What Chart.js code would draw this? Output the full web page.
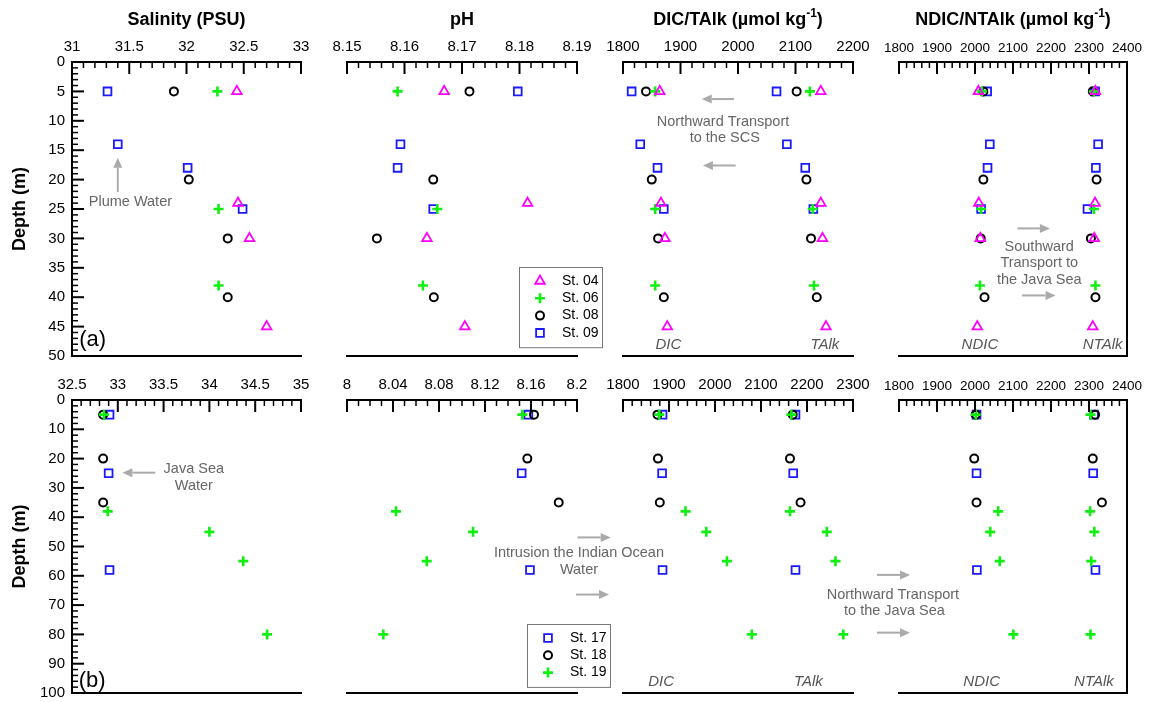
<!DOCTYPE html>
<html>
<head>
<meta charset="utf-8">
<script src="https://cdn.jsdelivr.net/npm/chart.js@4/dist/chart.umd.min.js"></script>
<style>
  html, body { margin: 0; padding: 0; background: #fff; }
  #wrap { position: relative; width: 1149px; height: 702px; overflow: hidden; }
  #wrap canvas { position: absolute; left: 0; top: 0; }
</style>
</head>
<body>
<div id="wrap"></div>
<script>
Chart.defaults.font.family = "'Liberation Sans', Arial, Helvetica, sans-serif";
Chart.defaults.color = '#000';

// ---- (a) upper row: stations 04, 06, 08, 09 ----
const st04Depth = [5, 24, 30, 45];
const st04Sal   = [32.44, 32.45, 32.55, 32.70];
const st04PH    = [8.1669, 8.1814, 8.1639, 8.1705];
const st04DIC   = [1864, 1866, 1873, 1877];
const st04TAlk  = [2144, 2144, 2147, 2153];
const st04NDIC  = [2009, 2010, 2014, 2006];
const st04NTAlk = [2317, 2316, 2314, 2310];

const st06Depth = [5, 25, 38];
const st06Sal   = [32.27, 32.28, 32.28];
const st06PH    = [8.1588, 8.1657, 8.1632];
const st06DIC   = [1856, 1856, 1856];
const st06TAlk  = [2125, 2130, 2132];
const st06NDIC  = [2018, 2016, 2013];
const st06NTAlk = [2313, 2313, 2317];

const st08Depth = [5, 20, 30, 40];
const st08Sal   = [31.89, 32.02, 32.36, 32.36];
const st08PH    = [8.1713, 8.1650, 8.1552, 8.1651];
const st08DIC   = [1840, 1850, 1861, 1871];
const st08TAlk  = [2102, 2119, 2127, 2137];
const st08NDIC  = [2022, 2022, 2015, 2025];
const st08NTAlk = [2310, 2320, 2305, 2317];

const st09Depth = [5, 14, 18, 25];
const st09Sal   = [31.31, 31.40, 32.01, 32.49];
const st09PH    = [8.1797, 8.1593, 8.1588, 8.1650];
const st09DIC   = [1815, 1830, 1860, 1871];
const st09TAlk  = [2067, 2085, 2117, 2131];
const st09NDIC  = [2032, 2039, 2033, 2016];
const st09NTAlk = [2316, 2324, 2318, 2296];

// ---- (b) lower row: stations 17, 18, 19 ----
const st17Depth = [5, 25, 58];
const st17Sal   = [32.91, 32.90, 32.91];
const st17PH    = [8.1577, 8.1519, 8.1591];
const st17DIC   = [1886, 1885, 1886];
const st17TAlk  = [2175, 2170, 2175];
const st17NDIC  = [2004, 2004, 2005];
const st17NTAlk = [2313, 2311, 2317];

const st18Depth = [5, 20, 35];
const st18Sal   = [32.84, 32.84, 32.84];
const st18PH    = [8.1626, 8.1568, 8.1841];
const st18DIC   = [1875, 1876, 1880];
const st18TAlk  = [2169, 2163, 2186];
const st18NDIC  = [2002, 1998, 2004];
const st18NTAlk = [2316, 2310, 2334];

const st19Depth = [5, 38, 45, 55, 80];
const st19Sal   = [32.85, 32.89, 34.00, 34.37, 34.63];
const st19PH    = [8.1525, 8.0426, 8.1096, 8.0693, 8.0316];
const st19DIC   = [1879, 1936, 1981, 2026, 2080];
const st19TAlk  = [2166, 2163, 2243, 2262, 2279];
const st19NDIC  = [2002, 2061, 2040, 2065, 2101];
const st19NTAlk = [2304, 2303, 2314, 2306, 2304];

// axis ranges [min, max, major step, minor step]
const upperXRanges = [[31, 33, 0.5, 0.1], [8.15, 8.19, 0.01, 0.002], [1800, 2200, 100, 20], [1800, 2400, 100, 20]];
const lowerXRanges = [[32.5, 35, 0.5, 0.1], [8, 8.2, 0.04, 0.01], [1800, 2300, 100, 20], [1800, 2400, 100, 20]];
const panelTitles = [['Salinity (PSU)'], ['pH'], ['DIC/TAlk (\u00b5mol kg', '-1', ')'], ['NDIC/NTAlk (\u00b5mol kg', '-1', ')']];

const STYLE = {
  'St. 04': { pointStyle: 'triangle', color: '#ff00ff', radius: 5.5, width: 1.8, order: 0 },
  'St. 06': { pointStyle: 'cross',    color: '#11ee11', radius: 5,   width: 2.6, order: 1 },
  'St. 08': { pointStyle: 'circle',   color: '#000000', radius: 4,   width: 2,   order: 2 },
  'St. 09': { pointStyle: 'rect',     color: '#1a1aff', radius: 5.5, width: 1.8, order: 3 },
  'St. 17': { pointStyle: 'rect',     color: '#1a1aff', radius: 5.5, width: 1.8, order: 2 },
  'St. 18': { pointStyle: 'circle',   color: '#000000', radius: 4,   width: 2,   order: 1 },
  'St. 19': { pointStyle: 'cross',    color: '#11ee11', radius: 5,   width: 2.6, order: 0 }
};

const upperStations = [
  { label: 'St. 04', depth: st04Depth, v: [st04Sal, st04PH, [st04DIC, st04TAlk], [st04NDIC, st04NTAlk]] },
  { label: 'St. 06', depth: st06Depth, v: [st06Sal, st06PH, [st06DIC, st06TAlk], [st06NDIC, st06NTAlk]] },
  { label: 'St. 08', depth: st08Depth, v: [st08Sal, st08PH, [st08DIC, st08TAlk], [st08NDIC, st08NTAlk]] },
  { label: 'St. 09', depth: st09Depth, v: [st09Sal, st09PH, [st09DIC, st09TAlk], [st09NDIC, st09NTAlk]] }
];
const lowerStations = [
  { label: 'St. 17', depth: st17Depth, v: [st17Sal, st17PH, [st17DIC, st17TAlk], [st17NDIC, st17NTAlk]] },
  { label: 'St. 18', depth: st18Depth, v: [st18Sal, st18PH, [st18DIC, st18TAlk], [st18NDIC, st18NTAlk]] },
  { label: 'St. 19', depth: st19Depth, v: [st19Sal, st19PH, [st19DIC, st19TAlk], [st19NDIC, st19NTAlk]] }
];

// page layout (pixels); canvases are taller than the page so the last tick label never squeezes the plot
const CW = 1149, CH = 760;
const ROWS = [
  { top: 62, bottom: 356, yMax: 50, yStep: 5, yMinor: 1, stations: upperStations, ranges: upperXRanges, legendAt: [519, 267] },
  { top: 400, bottom: 693, yMax: 100, yStep: 10, yMinor: 2, stations: lowerStations, ranges: lowerXRanges, legendAt: [527, 624] }
];
const COLS = [
  { left: 72, right: 301, font: 15 },
  { left: 347, right: 577, font: 15 },
  { left: 623, right: 853, font: 15 },
  { left: 899, right: 1127, font: 13.5 }
];

// annotations, in each panel's own data units
const NOTES = {
  '0-0': [
    { arrow: [31.40, 22.1, 31.40, 16.3] },
    { text: 'Plume Water', at: [31.51, 23.8] },
    { tag: '(a)', at: [31.18, 47.3] }
  ],
  '0-2': [
    { arrow: [1993, 6.3, 1937, 6.3] },
    { arrow: [1996, 17.6, 1939, 17.6] },
    { text: 'Northward Transport', at: [1974, 10.2] },
    { text: 'to the SCS', at: [1977, 12.9] },
    { ital: 'DIC', at: [1879, 48.1] },
    { ital: 'TAlk', at: [2151, 48.1] }
  ],
  '0-3': [
    { arrow: [2112, 28.3, 2197, 28.3] },
    { arrow: [2124, 39.7, 2212, 39.7] },
    { text: 'Southward', at: [2169, 31.4] },
    { text: 'Transport to', at: [2169, 34.2] },
    { text: 'the Java Sea', at: [2169, 37.0] },
    { ital: 'NDIC', at: [2013, 48.1] },
    { ital: 'NTAlk', at: [2336, 48.1] }
  ],
  '1-0': [
    { arrow: [33.41, 24.8, 33.05, 24.8] },
    { text: 'Java Sea', at: [33.83, 23.7] },
    { text: 'Water', at: [33.83, 29.2] },
    { tag: '(b)', at: [32.72, 95.8] }
  ],
  '1-1': [
    { text: 'Intrusion the Indian Ocean', at: [8.2017, 52.3] },
    { text: 'Water', at: [8.2017, 58.0] },
    { arrow: [8.2006, 46.9, 8.2293, 46.9] },
    { arrow: [8.1991, 66.4, 8.2278, 66.4] }
  ],
  '1-2': [
    { ital: 'DIC', at: [1883, 96.3] },
    { ital: 'TAlk', at: [2203, 96.3] }
  ],
  '1-3': [
    { text: 'Northward Transport', at: [1784, 66.6] },
    { text: 'to the Java Sea', at: [1788, 71.9] },
    { arrow: [1742, 59.7, 1829, 59.7] },
    { arrow: [1742, 79.4, 1829, 79.4] },
    { ital: 'NDIC', at: [2017.6, 96.3] },
    { ital: 'NTAlk', at: [2313, 96.3] }
  ]
};

const fmt = v => String(Math.round(v * 1000) / 1000);

function makeDataset(st, col) {
  const s = STYLE[st.label];
  const groups = Array.isArray(st.v[col][0]) ? st.v[col] : [st.v[col]];
  const data = [];
  groups.forEach(g => g.forEach((v, i) => data.push({ x: v, y: st.depth[i] })));
  return {
    label: st.label, data, order: s.order,
    pointStyle: s.pointStyle, pointRadius: s.radius, pointHoverRadius: s.radius,
    pointBorderWidth: s.width, borderColor: s.color, pointBorderColor: s.color,
    backgroundColor: 'rgba(0,0,0,0)', pointBackgroundColor: 'rgba(0,0,0,0)'
  };
}

function drawArrow(ctx, x1, y1, x2, y2) {
  const ang = Math.atan2(y2 - y1, x2 - x1), head = 10, hw = 4.5;
  ctx.strokeStyle = '#aaaaaa'; ctx.fillStyle = '#aaaaaa'; ctx.lineWidth = 2;
  ctx.beginPath();
  ctx.moveTo(x1, y1);
  ctx.lineTo(x2 - Math.cos(ang) * head, y2 - Math.sin(ang) * head);
  ctx.stroke();
  ctx.beginPath();
  ctx.moveTo(x2, y2);
  ctx.lineTo(x2 - Math.cos(ang) * head - Math.sin(ang) * hw, y2 - Math.sin(ang) * head + Math.cos(ang) * hw);
  ctx.lineTo(x2 - Math.cos(ang) * head + Math.sin(ang) * hw, y2 - Math.sin(ang) * head - Math.cos(ang) * hw);
  ctx.closePath();
  ctx.fill();
}

function decor(r, c) {
  const row = ROWS[r], [xMin, xMax, xStep, xMinor] = row.ranges[c];
  return {
    id: 'decor',
    afterDraw(chart) {
      const ctx = chart.ctx, a = chart.chartArea, xs = chart.scales.x, ys = chart.scales.y;
      ctx.save();
      ctx.strokeStyle = '#000';
      // inward ticks on top axis
      const n = Math.round((xMax - xMin) / xMinor), every = Math.round(xStep / xMinor);
      for (let i = 0; i <= n; i++) {
        const major = i % every === 0;
        const x = xs.getPixelForValue(xMin + i * xMinor);
        ctx.lineWidth = major ? 2 : 1.5;
        ctx.beginPath(); ctx.moveTo(x, a.top); ctx.lineTo(x, a.top + (major ? 12 : 6)); ctx.stroke();
      }
      // inward ticks on depth axis
      if (c === 0) {
        const m = Math.round(row.yMax / row.yMinor), ev = Math.round(row.yStep / row.yMinor);
        for (let i = 0; i <= m; i++) {
          const major = i % ev === 0;
          const y = ys.getPixelForValue(i * row.yMinor);
          ctx.lineWidth = major ? 2 : 1.5;
          ctx.beginPath(); ctx.moveTo(a.left, y); ctx.lineTo(a.left + (major ? 12 : 6), y); ctx.stroke();
        }
      }
      // bottom line, right frame on the last panel
      ctx.lineWidth = 2;
      ctx.beginPath(); ctx.moveTo(a.left - 1, a.bottom); ctx.lineTo(a.right + 1, a.bottom); ctx.stroke();
      if (c === 3) {
        ctx.beginPath(); ctx.moveTo(a.right, a.top); ctx.lineTo(a.right, a.bottom); ctx.stroke();
      }
      // panel title (upper row only)
      if (r === 0) {
        const t = panelTitles[c], cx = (a.left + a.right) / 2, ty = 20;
        ctx.textBaseline = 'middle';
        ctx.fillStyle = '#000';
        const big = "bold 18px 'Liberation Sans', Arial, sans-serif", small = "bold 12px 'Liberation Sans', Arial, sans-serif";
        ctx.font = big; const w0 = ctx.measureText(t[0]).width, w2 = t[2] ? ctx.measureText(t[2]).width : 0;
        ctx.font = small; const w1 = t[1] ? ctx.measureText(t[1]).width : 0;
        let x = cx - (w0 + w1 + w2) / 2;
        ctx.textAlign = 'left';
        ctx.font = big; ctx.fillText(t[0], x, ty); x += w0;
        if (t[1]) { ctx.font = small; ctx.fillText(t[1], x, ty - 6); x += w1; ctx.font = big; ctx.fillText(t[2], x, ty); }
      }
      // annotations
      ctx.textAlign = 'center'; ctx.textBaseline = 'middle';
      (NOTES[r + '-' + c] || []).forEach(nt => {
        if (nt.arrow) {
          const [x1, y1, x2, y2] = nt.arrow;
          drawArrow(ctx, xs.getPixelForValue(x1), ys.getPixelForValue(y1), xs.getPixelForValue(x2), ys.getPixelForValue(y2));
          return;
        }
        const px = xs.getPixelForValue(nt.at[0]), py = ys.getPixelForValue(nt.at[1]);
        if (nt.text) { ctx.fillStyle = '#666'; ctx.font = "14.5px 'Liberation Sans', Arial, sans-serif"; ctx.fillText(nt.text, px, py); }
        if (nt.ital) { ctx.fillStyle = '#555'; ctx.font = "italic 15px 'Liberation Sans', Arial, sans-serif"; ctx.fillText(nt.ital, px, py); }
        if (nt.tag) { ctx.fillStyle = '#000'; ctx.font = "22px 'Liberation Sans', Arial, sans-serif"; ctx.fillText(nt.tag, px, py); }
      });
      // legend inside the pH panel
      if (c === 1) {
        const [lx, ly] = row.legendAt, items = row.stations, rowH = 17.3;
        const bw = 83, bh = items.length * rowH + 11;
        ctx.fillStyle = '#fff'; ctx.fillRect(lx, ly, bw, bh);
        ctx.strokeStyle = '#777'; ctx.lineWidth = 1;
        ctx.strokeRect(lx + 0.5, ly + 0.5, bw, bh);
        items.forEach((st, i) => {
          const s = STYLE[st.label], y = ly + 14 + i * rowH;
          ctx.strokeStyle = s.color; ctx.fillStyle = 'rgba(0,0,0,0)'; ctx.lineWidth = s.width;
          Chart.helpers.drawPoint(ctx, { pointStyle: s.pointStyle, radius: s.radius, borderWidth: s.width, rotation: 0 }, lx + 21, y);
          ctx.fillStyle = '#000'; ctx.textAlign = 'left';
          ctx.font = "14px 'Liberation Sans', Arial, sans-serif";
          ctx.fillText(st.label, lx + 43, y);
        });
      }
      ctx.restore();
    }
  };
}

const wrap = document.getElementById('wrap');
ROWS.forEach((row, r) => {
  COLS.forEach((col, c) => {
    const cv = document.createElement('canvas');
    cv.width = CW; cv.height = CH;
    cv.style.width = CW + 'px'; cv.style.height = CH + 'px';
    wrap.appendChild(cv);
    const [xMin, xMax, xStep] = row.ranges[c];
    const yScale = {
      type: 'linear', position: 'left', reverse: true, min: 0, max: row.yMax,
      display: c === 0,
      grid: { display: false, drawTicks: false },
      border: { display: true, width: 2, color: '#000' },
      ticks: { stepSize: row.yStep, padding: 7, autoSkip: false, color: '#000', font: { size: 15 }, callback: fmt },
      title: { display: true, text: 'Depth (m)', color: '#000', font: { size: 18, weight: 'bold' }, padding: { top: 9, bottom: 0 } }
    };
    if (c === 0) yScale.afterFit = s => { s.width = col.left; };
    new Chart(cv.getContext('2d'), {
      type: 'scatter',
      data: { datasets: row.stations.map(st => makeDataset(st, c)) },
      options: {
        responsive: false, animation: false, devicePixelRatio: 1, events: [],
        layout: { padding: { left: c === 0 ? 0 : col.left, right: CW - col.right, top: row.top - 30, bottom: CH - row.bottom } },
        plugins: { legend: { display: false }, tooltip: { enabled: false }, title: { display: false } },
        scales: {
          x: {
            type: 'linear', position: 'top', min: xMin, max: xMax,
            afterFit: s => { s.height = 30; },
            grid: { display: false, drawTicks: false },
            border: { display: true, width: 2, color: '#000' },
            ticks: { stepSize: xStep, padding: 6, autoSkip: false, maxRotation: 0, color: '#000', font: { size: col.font }, callback: fmt }
          },
          y: yScale
        }
      },
      plugins: [decor(r, c)]
    });
  });
});
</script>
</body>
</html>
